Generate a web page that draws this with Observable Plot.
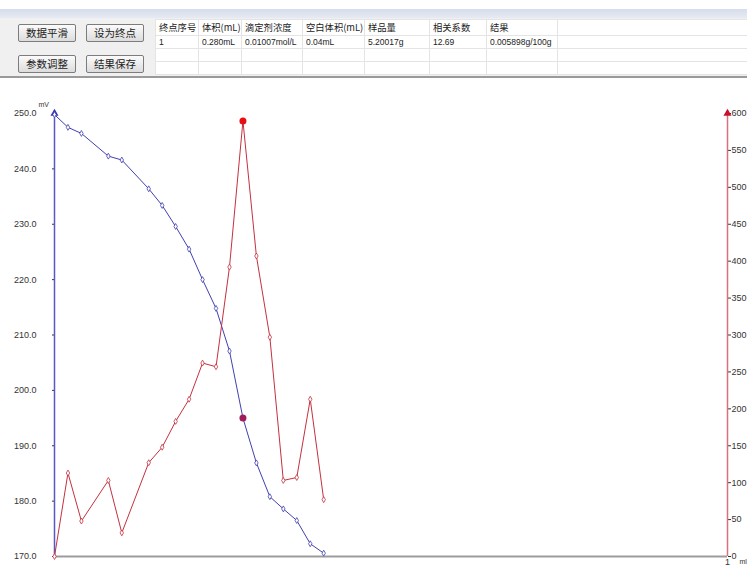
<!DOCTYPE html>
<html>
<head>
<meta charset="utf-8">
<script src="https://cdn.jsdelivr.net/npm/d3@7"></script>
<script src="https://cdn.jsdelivr.net/npm/@observablehq/plot@0.6"></script>
<style>
html,body{margin:0;padding:0;background:#fff;overflow:hidden;width:747px;height:567px;font-family:"Noto Sans CJK SC","Noto Sans",sans-serif;}
#panel{position:absolute;left:0;top:0;width:747px;height:80px;}
#strip{position:absolute;left:0;top:9px;width:747px;height:9px;background:linear-gradient(#d6ddeb,#e6eaf3);}
#tool{position:absolute;left:0;top:18px;width:747px;height:58px;background:#f0f0f0;border-bottom:2px solid #9a9a9a;}
.btn{position:absolute;width:56px;height:16px;border:1px solid #7c7c7c;border-radius:2px;background:linear-gradient(#fbfbfb,#dcdcdc);font-size:10.5px;line-height:16px;text-align:center;color:#222;}
#tbl{position:absolute;left:155px;top:1px;width:592px;border-collapse:collapse;background:#fff;table-layout:fixed;}
#tbl td{border:1px solid #e4e4e4;padding:0 0 0 3px;white-space:nowrap;overflow:visible;color:#222;}
#tbl tr.h td{height:15px;font-size:9.3px;line-height:15px;}
#tbl tr.d td{height:12px;font-size:8.5px;line-height:12px;font-family:"Liberation Sans",Arial,sans-serif;}
#chart{position:absolute;left:0;top:80px;width:747px;height:487px;}
#chart svg{position:absolute;left:0;top:0;}
</style>
</head>
<body>
<div id="panel">
  <div id="strip"></div>
  <div id="tool">
    <div class="btn" style="left:18px;top:6px;">数据平滑</div>
    <div class="btn" style="left:86px;top:6px;">设为终点</div>
    <div class="btn" style="left:18px;top:37px;">参数调整</div>
    <div class="btn" style="left:86px;top:37px;">结果保存</div>
    <table id="tbl"></table>
  </div>
</div>
<div id="chart"></div>
<script>
// ---- table data ----
const headers = ["终点序号","体积(mL)","滴定剂浓度","空白体积(mL)","样品量","相关系数","结果",""];
const resultRow = ["1","0.280mL","0.01007mol/L","0.04mL","5.20017g","12.69","0.005898g/100g",""];
const colWidths = [43,43,61,62,65,57,71,190];

// ---- chart data ----
const volume = [0, 0.02, 0.04, 0.08, 0.10, 0.14, 0.16, 0.18, 0.20, 0.22, 0.24, 0.26, 0.28, 0.30, 0.32, 0.34, 0.36, 0.38, 0.40];
const potential = [249.8, 247.5, 246.4, 242.3, 241.6, 236.4, 233.4, 229.6, 225.5, 220.0, 214.8, 207.1, 195.0, 186.9, 180.8, 178.6, 176.5, 172.3, 170.6];
const derivative = [0, 113, 48, 103, 32, 127, 148, 183, 213, 262, 257, 392, 590, 407, 297, 103, 107, 213, 77];
const leftTicks = [170, 180, 190, 200, 210, 220, 230, 240, 250];
const rightTicks = [0, 50, 100, 150, 200, 250, 300, 350, 400, 450, 500, 550, 600];
const xDomain = [0, 1];
const xTicks = [1];
const endpointVolume = 0.28;

// build table
const tbl = document.getElementById("tbl");
const cg = document.createElement("colgroup");
colWidths.forEach(w => { const c = document.createElement("col"); c.style.width = w + "px"; cg.appendChild(c); });
tbl.appendChild(cg);
function addRow(cells, cls) {
  const tr = document.createElement("tr"); tr.className = cls;
  cells.forEach(t => { const td = document.createElement("td"); td.textContent = t; tr.appendChild(td); });
  tbl.appendChild(tr);
}
addRow(headers, "h");
addRow(resultRow, "d");
addRow(headers.map(() => ""), "d");
addRow(headers.map(() => ""), "d");

const blueData = volume.map((v, i) => ({v, y: potential[i]}));
const redData = volume.map((v, i) => ({v, y: derivative[i]}));

const common = {
  width: 747, height: 487,
  marginLeft: 54, marginRight: 20, marginTop: 33, marginBottom: 11,
  style: {background: "transparent", overflow: "visible", fontFamily: "'Liberation Sans', Arial, sans-serif", fontSize: "9px", color: "#333"}
};

const blue = "#4040b0", red = "#c4303f";

const leftPlot = Plot.plot({
  ...common,
  x: {domain: xDomain, axis: null},
  y: {domain: [leftTicks[0], leftTicks[leftTicks.length - 1]], ticks: leftTicks, tickFormat: d => d.toFixed(1), tickSize: 2, tickPadding: 16, label: null},
  marks: [
    Plot.ruleY([leftTicks[0]], {stroke: "#9c9c9c", strokeWidth: 2}),
    Plot.ruleX([xDomain[0]], {stroke: "#5858c6", strokeWidth: 1.5}),
    Plot.dot([{v: xDomain[0], y: leftTicks[leftTicks.length - 1]}], {x: "v", y: "y", symbol: "triangle", r: 3, fill: "#3535b0"}),
    Plot.line(blueData, {x: "v", y: "y", stroke: blue, strokeWidth: 1}),
    Plot.dot(blueData, {x: "v", y: "y", symbol: "diamond", r: 1.8, stroke: blue, strokeWidth: 0.8, fill: "white"}),
    Plot.dot(blueData.filter(d => d.v === endpointVolume), {x: "v", y: "y", r: 3.5, fill: "#a01c5a"}),
    Plot.text(["mV"], {frameAnchor: "top-left", dx: -16, dy: -11, textAnchor: "start", fontSize: 7, fill: "#333"})
  ]
});

const rightPlot = Plot.plot({
  ...common,
  x: {domain: xDomain, ticks: xTicks, tickFormat: d => String(d), tickSize: 0, tickPadding: 2, fontSize: 8, label: null},
  y: {domain: [rightTicks[0], rightTicks[rightTicks.length - 1]], axis: "right", ticks: rightTicks, tickSize: 3, tickPadding: 1, label: null},
  marks: [
    Plot.ruleX([xDomain[1]], {stroke: "#d8707e", strokeWidth: 1.5}),
    Plot.dot([{v: xDomain[1], y: rightTicks[rightTicks.length - 1]}], {x: "v", y: "y", symbol: "triangle", r: 3, fill: "#c8102e"}),
    Plot.line(redData, {x: "v", y: "y", stroke: red, strokeWidth: 1}),
    Plot.dot(redData, {x: "v", y: "y", symbol: "diamond", r: 1.8, stroke: red, strokeWidth: 0.8, fill: "white"}),
    Plot.dot(redData.filter(d => d.v === endpointVolume), {x: "v", y: "y", r: 3.5, fill: "#e60f12"}),
    Plot.text(["ml"], {frameAnchor: "bottom-right", dx: 12, dy: 3, textAnchor: "start", lineAnchor: "top", fontSize: 7, fill: "#333"})
  ]
});

const chart = document.getElementById("chart");
chart.appendChild(leftPlot);
chart.appendChild(rightPlot);
</script>
</body>
</html>
